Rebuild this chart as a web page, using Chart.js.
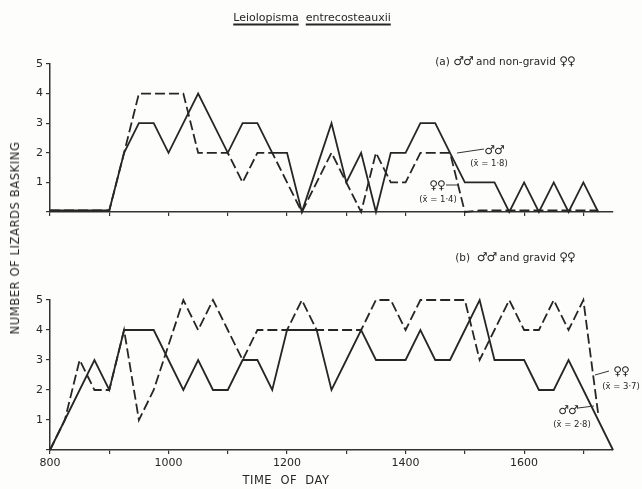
<!DOCTYPE html>
<html>
<head>
<meta charset="utf-8">
<script src="https://cdn.jsdelivr.net/npm/chart.js@4.4.1/dist/chart.umd.min.js"></script>
<style>
  body { margin: 0; background: #fdfdfc; }
  #wrap { position: relative; width: 642px; height: 489px; overflow: hidden; font-family: "DejaVu Sans", sans-serif; color: #262626; }
  .box { position: absolute; left: 0; width: 642px; }
  .txt { position: absolute; transform: translate(-50%, -50%); white-space: nowrap; }
  .small { font-size: 8.5px; }
  .sym { font-size: 12px; letter-spacing: -1px; }
  #title span { text-decoration: underline; text-decoration-thickness: 1.5px; text-underline-offset: 3px; }
  #ytitle { transform: translate(-50%, -50%) rotate(-90deg); font-size: 11.5px; letter-spacing: 0.6px; }
  svg { position: absolute; left: 0; top: 0; }
</style>
</head>
<body>
<div id="wrap">
  <div class="box" style="top:0;height:232px"><canvas id="chartA"></canvas></div>
  <div class="box" style="top:232px;height:257px"><canvas id="chartB"></canvas></div>

  <div id="title" class="txt" style="left:312px;top:17px;font-size:11px"><span>Leiolopisma</span>&nbsp;&nbsp;<span>entrecosteauxii</span></div>
  <div class="txt" style="left:505px;top:61px;font-size:10.5px">(a)&nbsp;<span class="sym">♂♂</span> and non-gravid <span class="sym">♀♀</span></div>
  <div class="txt" style="left:515px;top:257px;font-size:10.5px">(b)&nbsp;&nbsp;<span class="sym">♂♂</span> and gravid <span class="sym">♀♀</span></div>
  <div id="ytitle" class="txt" style="left:15px;top:238px">NUMBER OF LIZARDS BASKING</div>
  <div class="txt" style="left:286px;top:480px;font-size:11.5px;letter-spacing:0.5px">TIME&nbsp; OF&nbsp; DAY</div>

  <div class="txt sym" style="left:494px;top:150px">♂♂</div>
  <div class="txt small" style="left:489px;top:163px">(x̄ = 1·8)</div>
  <div class="txt sym" style="left:437px;top:185px">♀♀</div>
  <div class="txt small" style="left:438px;top:199px">(x̄ = 1·4)</div>
  <div class="txt sym" style="left:621px;top:371px">♀♀</div>
  <div class="txt small" style="left:621px;top:386px">(x̄ = 3·7)</div>
  <div class="txt sym" style="left:568px;top:410px">♂♂</div>
  <div class="txt small" style="left:572px;top:424px">(x̄ = 2·8)</div>

  <svg width="642" height="489">
    <g stroke="#333" stroke-width="1">
      <line x1="457" y1="153" x2="484" y2="149"/>
      <line x1="446" y1="185" x2="458" y2="185"/>
      <line x1="595" y1="375" x2="609" y2="371"/>
      <line x1="578" y1="408" x2="594" y2="406"/>
    </g>
  </svg>
</div>

<script>
// sample times (hhmm, every quarter hour drawn as 25 units)
const times = [800, 825, 850, 875, 900, 925, 950, 975, 1000, 1025, 1050, 1075, 1100, 1125, 1150, 1175,
  1200, 1225, 1250, 1275, 1300, 1325, 1350, 1375, 1400, 1425, 1450, 1475, 1500, 1525, 1550, 1575,
  1600, 1625, 1650, 1675, 1700, 1725, 1750];

// (a) males and non-gravid females
const malesA = [0.05, 0.05, 0.05, 0.05, 0.05, 2, 3, 3, 2, 3, 4, 3, 2, 3, 3, 2,
  2, 0, 1.5, 3, 1, 2, 0, 2, 2, 3, 3, 2, 1, 1, 1, 0,
  1, 0, 1, 0, 1, 0, null];
const femalesA = [0.05, 0.05, 0.05, 0.05, 0.05, 2, 4, 4, 4, 4, 2, 2, 2, 1, 2, 2,
  1, 0, 1, 2, 1, 0, 2, 1, 1, 2, 2, 2, 0, 0.05, 0.05, 0.05,
  0.05, 0.05, 0.05, 0.05, 0.05, 0.05, null];

// (b) males and gravid females
const malesB = [0, 1, 2, 3, 2, 4, 4, 4, 3, 2, 3, 2, 2, 3, 3, 2,
  4, 4, 4, 2, 3, 4, 3, 3, 3, 4, 3, 3, 4, 5, 3, 3,
  3, 2, 2, 3, 2, 1, 0];
const femalesB = [0, 1, 3, 2, 2, 4, 1, 2, 3.5, 5, 4, 5, 4, 3, 4, 4,
  4, 5, 4, 4, 4, 4, 5, 5, 4, 5, 5, 5, 5, 3, 4, 5,
  4, 4, 5, 4, 5, 1.2, null];

const xTicks = [800, 900, 1000, 1100, 1200, 1300, 1400, 1500, 1600, 1700];
const xLabels = ['800', '', '1000', '', '1200', '', '1400', '', '1600', ''];
const yTicks = [0, 1, 2, 3, 4, 5];
const yLabels = ['', '1', '2', '3', '4', '5'];

const ink = '#262626';

function points(vals) {
  return times.map((t, i) => ({ x: t, y: vals[i] }));
}

function makeChart(id, males, females, showX, padTop, xHeight) {
  return new Chart(document.getElementById(id), {
    type: 'line',
    data: {
      datasets: [
        { data: points(males), borderColor: ink, borderWidth: 1.8, pointRadius: 0, tension: 0, clip: false, spanGaps: false },
        { data: points(females), borderColor: ink, borderWidth: 1.8, borderDash: [10, 4], pointRadius: 0, tension: 0, clip: false, spanGaps: false }
      ]
    },
    options: {
      responsive: true,
      maintainAspectRatio: false,
      animation: false,
      layout: { padding: { top: padTop, right: 29, left: 0, bottom: 0 } },
      plugins: { legend: { display: false }, tooltip: { enabled: false } },
      scales: {
        x: {
          type: 'linear', min: 800, max: 1750,
          afterBuildTicks: s => { s.ticks = xTicks.map(v => ({ value: v })); },
          afterFit: s => { s.height = xHeight; },
          ticks: {
            color: '#262626', padding: 3, maxRotation: 0, autoSkip: false,
            font: { family: 'DejaVu Sans', size: 11 },
            callback: (v) => showX ? xLabels[xTicks.indexOf(v)] : ''
          },
          grid: { drawOnChartArea: false, drawTicks: true, tickLength: 4, color: '#333', lineWidth: 1.2 },
          border: { color: '#333', width: 1.5 }
        },
        y: {
          min: 0, max: 5,
          afterBuildTicks: s => { s.ticks = yTicks.map(v => ({ value: v })); },
          afterFit: s => { s.width = 50; },
          ticks: {
            color: '#262626', padding: 3,
            font: { family: 'DejaVu Sans', size: 11 },
            callback: (v) => yLabels[yTicks.indexOf(v)]
          },
          grid: { drawOnChartArea: false, drawTicks: true, tickLength: 4, color: '#333', lineWidth: 1.2 },
          border: { color: '#333', width: 1.5 }
        }
      }
    }
  });
}

makeChart('chartA', malesA, femalesA, false, 64, 20);
makeChart('chartB', malesB, femalesB, true, 68, 39);
</script>
</body>
</html>
